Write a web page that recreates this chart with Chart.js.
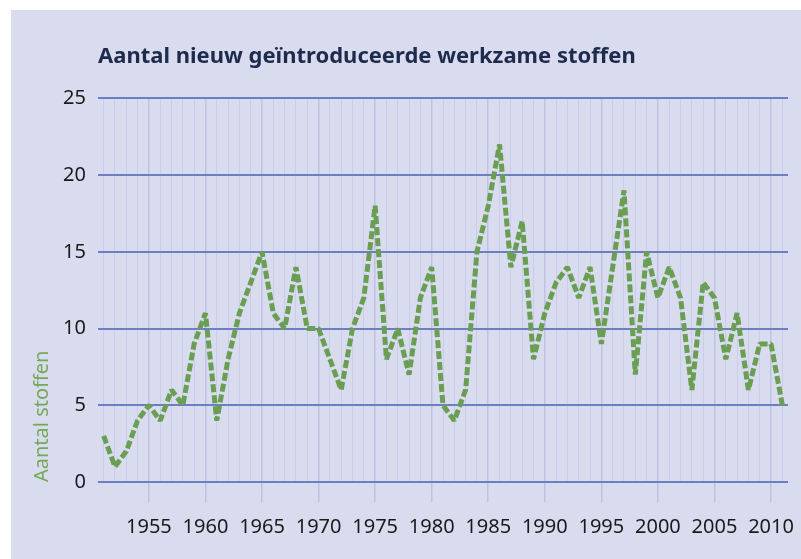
<!DOCTYPE html>
<html lang="nl">
<head>
    <meta charset="UTF-8">
    <title>Aantal nieuw geïntroduceerde werkzame stoffen</title>
    <script src="https://cdn.jsdelivr.net/npm/chart.js"></script>
    <style>
        html, body { margin: 0; padding: 0; background: #ffffff; }
        #panel {
            position: absolute;
            left: 11px; top: 10px; right: 0; bottom: 0;
            background: #d9dcef;
        }
        #wrap {
            position: absolute;
            left: 0; top: 0;
            width: 801px; height: 559px;
        }
    </style>
</head>
<body>
    <div id="panel"></div>
    <div id="wrap">
        <canvas id="stoffenChart" width="801" height="559"></canvas>
    </div>

    <script>
        // Jaren en aantallen
        const years = [
            1951, 1952, 1953, 1954, 1955, 1956, 1957, 1958, 1959, 1960,
            1961, 1962, 1963, 1964, 1965, 1966, 1967, 1968, 1969, 1970,
            1971, 1972, 1973, 1974, 1975, 1976, 1977, 1978, 1979, 1980,
            1981, 1982, 1983, 1984, 1985, 1986, 1987, 1988, 1989, 1990,
            1991, 1992, 1993, 1994, 1995, 1996, 1997, 1998, 1999, 2000,
            2001, 2002, 2003, 2004, 2005, 2006, 2007, 2008, 2009, 2010,
            2011
        ];
        const counts = [
            3, 1, 2, 4, 5, 4, 6, 5, 9, 11,
            4, 8, 11, 13, 15, 11, 10, 14, 10, 10,
            8, 6, 10, 12, 18, 8, 10, 7, 12, 14,
            5, 4, 6, 15, 18, 22, 14, 17, 8, 11,
            13, 14, 12, 14, 9, 14, 19, 7, 15, 12,
            14, 12, 6, 13, 12, 8, 11, 6, 9, 9,
            5
        ];
        const yTicks = [0, 5, 10, 15, 20, 25];

        const fontFamily = "'Noto Sans', 'Open Sans', sans-serif";

        function isMajor(index) {
            return years[index] % 5 === 0;
        }

        const ctx = document.getElementById('stoffenChart').getContext('2d');
        const stoffenChart = new Chart(ctx, {
            type: 'line',
            data: {
                labels: years.map(String),
                datasets: [{
                    label: 'Aantal stoffen',
                    data: counts,
                    borderColor: '#6a9e52',
                    borderWidth: 5,
                    borderDash: [8, 3],
                    borderCapStyle: 'butt',
                    borderJoinStyle: 'bevel',
                    pointRadius: 0,
                    tension: 0,
                    fill: false
                }]
            },
            options: {
                responsive: false,
                animation: false,
                layout: {
                    padding: { left: 30, right: 13, top: 0, bottom: 0 }
                },
                plugins: {
                    legend: { display: false },
                    tooltip: { enabled: false },
                    title: {
                        display: true,
                        text: 'Aantal nieuw geïntroduceerde werkzame stoffen',
                        align: 'start',
                        fullSize: false,
                        color: '#1f2b4d',
                        font: { family: fontFamily, size: 22, weight: 'bold' },
                        padding: { top: 44, bottom: 28 }
                    }
                },
                scales: {
                    x: {
                        type: 'category',
                        offset: true,
                        border: { display: false },
                        grid: {
                            offset: false,
                            drawTicks: true,
                            tickLength: 20,
                            color: (c) => isMajor(c.index) ? '#bfc2e2' : '#cacde9',
                            lineWidth: (c) => isMajor(c.index) ? 1.5 : 1,
                            tickColor: (c) => isMajor(c.index) ? '#bfc2e2' : 'rgba(0,0,0,0)'
                        },
                        ticks: {
                            autoSkip: false,
                            maxRotation: 0,
                            padding: 13,
                            color: '#1a1a1a',
                            font: { family: fontFamily, size: 20 },
                            callback: function (value, index) {
                                return isMajor(index) ? years[index] : '';
                            }
                        },
                        afterFit: (scale) => { scale.height = 77; }
                    },
                    y: {
                        min: yTicks[0],
                        max: yTicks[yTicks.length - 1],
                        border: { display: false },
                        afterBuildTicks: (scale) => {
                            scale.ticks = yTicks.map(v => ({ value: v }));
                        },
                        grid: {
                            drawTicks: false,
                            color: '#6b7fc2',
                            lineWidth: 2
                        },
                        ticks: {
                            padding: 12,
                            color: '#1a1a1a',
                            font: { family: fontFamily, size: 20 }
                        },
                        title: {
                            display: true,
                            text: 'Aantal stoffen',
                            align: 'start',
                            color: '#74a958',
                            font: { family: fontFamily, size: 20 },
                            padding: { top: 0, bottom: 4 }
                        },
                        afterFit: (scale) => { scale.width = 68; }
                    }
                }
            }
        });
    </script>
</body>
</html>
